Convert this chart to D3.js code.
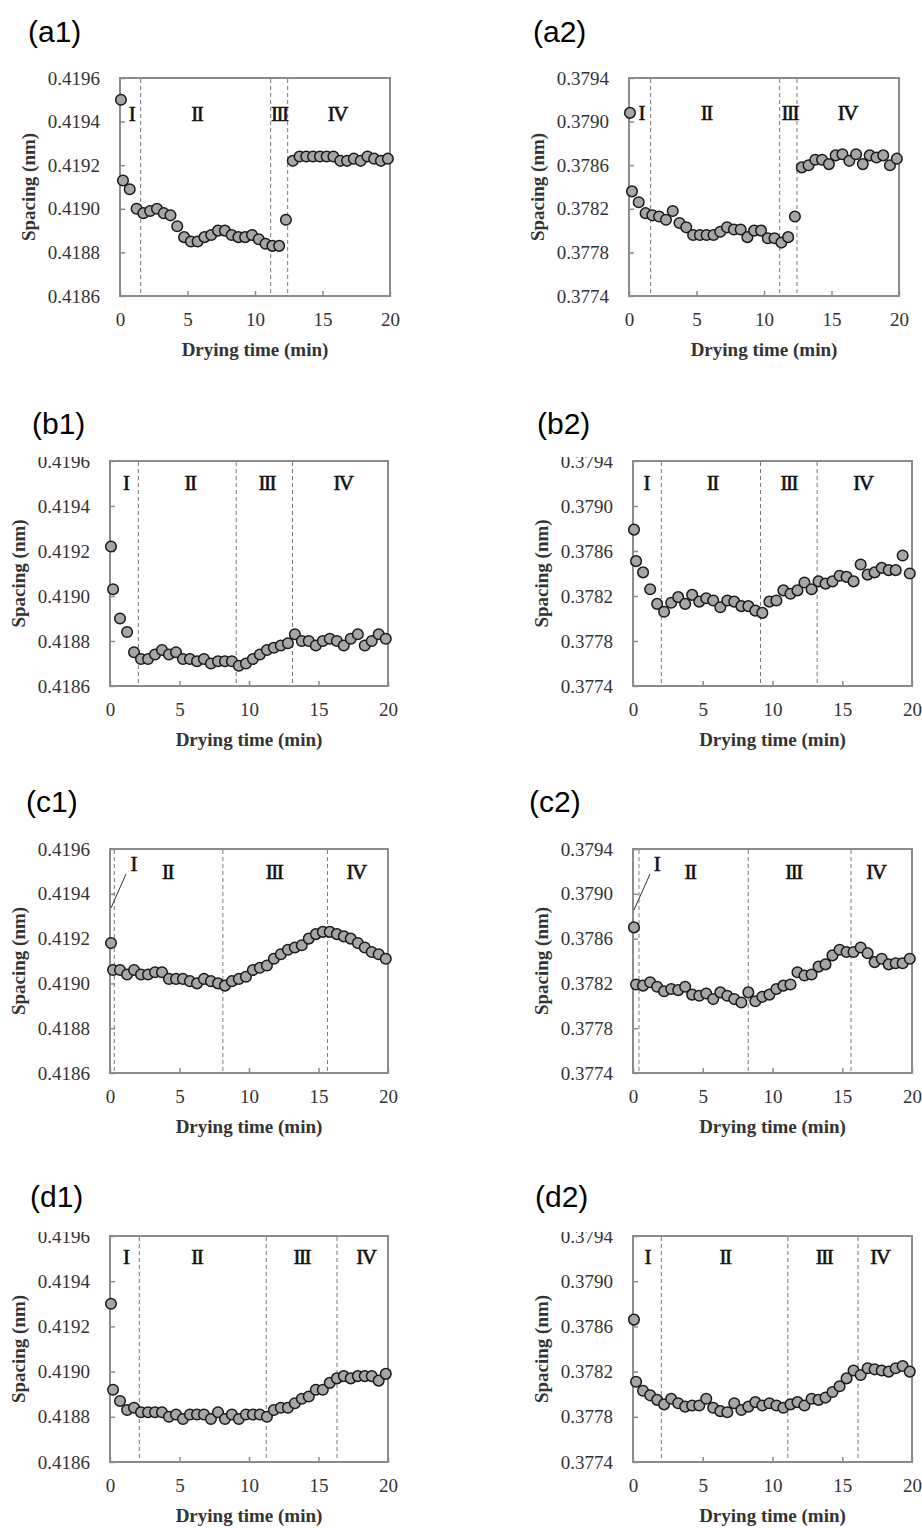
<!DOCTYPE html>
<html>
<head>
<meta charset="utf-8">
<script src="https://cdn.jsdelivr.net/npm/d3@7"></script>
<style>
body { margin: 0; background: #fff; }
svg { display: block; }
</style>
</head>
<body>
<svg width="922" height="1528"></svg>
<script>
// drying time (min) of each measurement, shared by all panels
var times = [0.07, 0.22, 0.72, 1.23, 1.73, 2.23, 2.74, 3.24, 3.74, 4.24, 4.75, 5.25, 5.75, 6.26, 6.76, 7.26,
	7.77, 8.27, 8.77, 9.27, 9.78, 10.28, 10.78, 11.29, 11.79, 12.29, 12.80, 13.30, 13.80, 14.30, 14.81,
	15.31, 15.81, 16.32, 16.82, 17.32, 17.83, 18.33, 18.83, 19.33, 19.84];

// lattice spacing (nm)
var a1Spacing = [0.41950, 0.41913, 0.41909, 0.41900, 0.41898, 0.41899, 0.41900, 0.41898, 0.41897, 0.41892,
	0.41887, 0.41885, 0.41885, 0.41887, 0.41888, 0.41890, 0.41890, 0.41888, 0.41887, 0.41887,
	0.41888, 0.41886, 0.41884, 0.41883, 0.41883, 0.41895, 0.41922, 0.41924, 0.41924, 0.41924,
	0.41924, 0.41924, 0.41924, 0.41922, 0.41922, 0.41923, 0.41922, 0.41924, 0.41923, 0.41922, 0.41923];
var a2Spacing = [0.37908, 0.37836, 0.37826, 0.37816, 0.37814, 0.37813, 0.37810, 0.37818, 0.37807, 0.37803,
	0.37796, 0.37796, 0.37796, 0.37796, 0.37799, 0.37803, 0.37801, 0.37801, 0.37794, 0.37800,
	0.37800, 0.37793, 0.37793, 0.37789, 0.37794, 0.37813, 0.37858, 0.37860, 0.37865, 0.37865,
	0.37861, 0.37869, 0.37870, 0.37864, 0.37870, 0.37861, 0.37869, 0.37867, 0.37869, 0.37860, 0.37866];
var b1Spacing = [0.41922, 0.41903, 0.41890, 0.41884, 0.41875, 0.41872, 0.41872, 0.41874, 0.41876, 0.41874,
	0.41875, 0.41872, 0.41872, 0.41871, 0.41872, 0.41870, 0.41871, 0.41871, 0.41871, 0.41869,
	0.41870, 0.41872, 0.41874, 0.41876, 0.41877, 0.41878, 0.41879, 0.41883, 0.41880, 0.41880,
	0.41878, 0.41880, 0.41881, 0.41880, 0.41878, 0.41881, 0.41883, 0.41878, 0.41880, 0.41883, 0.41881];
var b2Spacing = [0.37879, 0.37851, 0.37841, 0.37826, 0.37813, 0.37806, 0.37814, 0.37819, 0.37813, 0.37821,
	0.37815, 0.37818, 0.37816, 0.37810, 0.37816, 0.37815, 0.37811, 0.37811, 0.37807, 0.37805,
	0.37815, 0.37816, 0.37825, 0.37822, 0.37825, 0.37832, 0.37826, 0.37833, 0.37831, 0.37833,
	0.37838, 0.37837, 0.37833, 0.37848, 0.37839, 0.37841, 0.37845, 0.37843, 0.37843, 0.37856, 0.37840];
var c1Spacing = [0.41918, 0.41906, 0.41906, 0.41904, 0.41906, 0.41904, 0.41904, 0.41905, 0.41905, 0.41902,
	0.41902, 0.41902, 0.41901, 0.41900, 0.41902, 0.41901, 0.41900, 0.41899, 0.41901, 0.41902,
	0.41903, 0.41906, 0.41907, 0.41908, 0.41911, 0.41913, 0.41915, 0.41916, 0.41917, 0.41920,
	0.41922, 0.41923, 0.41923, 0.41922, 0.41921, 0.41920, 0.41918, 0.41916, 0.41914, 0.41913, 0.41911];
var c2Spacing = [0.37870, 0.37819, 0.37818, 0.37821, 0.37817, 0.37813, 0.37815, 0.37814, 0.37817, 0.37810,
	0.37809, 0.37811, 0.37806, 0.37812, 0.37809, 0.37806, 0.37803, 0.37812, 0.37804, 0.37808,
	0.37810, 0.37815, 0.37818, 0.37819, 0.37830, 0.37827, 0.37828, 0.37835, 0.37837, 0.37845,
	0.37850, 0.37848, 0.37848, 0.37852, 0.37847, 0.37839, 0.37842, 0.37837, 0.37838, 0.37838, 0.37842];
var d1Spacing = [0.41930, 0.41892, 0.41887, 0.41883, 0.41884, 0.41882, 0.41882, 0.41882, 0.41882, 0.41880,
	0.41881, 0.41879, 0.41881, 0.41881, 0.41881, 0.41879, 0.41882, 0.41879, 0.41881, 0.41879,
	0.41881, 0.41881, 0.41881, 0.41880, 0.41883, 0.41884, 0.41884, 0.41886, 0.41888, 0.41889,
	0.41892, 0.41892, 0.41895, 0.41897, 0.41898, 0.41897, 0.41898, 0.41898, 0.41898, 0.41896, 0.41899];
var d2Spacing = [0.37866, 0.37811, 0.37803, 0.37799, 0.37795, 0.37791, 0.37796, 0.37792, 0.37789, 0.37790,
	0.37790, 0.37796, 0.37788, 0.37785, 0.37784, 0.37792, 0.37786, 0.37789, 0.37793, 0.37790,
	0.37792, 0.37790, 0.37788, 0.37791, 0.37793, 0.37790, 0.37796, 0.37795, 0.37797, 0.37802,
	0.37807, 0.37814, 0.37821, 0.37817, 0.37823, 0.37822, 0.37821, 0.37820, 0.37823, 0.37825, 0.37820];

// stage boundaries (min)
var a1Stages = [1.53, 11.16, 12.42];
var a2Stages = [1.60, 11.16, 12.44];
var b1Stages = [2.04, 9.08, 13.13];
var b2Stages = [2.03, 9.14, 13.20];
var c1Stages = [0.31, 8.12, 15.65];
var c2Stages = [0.43, 8.26, 15.63];
var d1Stages = [2.11, 11.24, 16.33];
var d2Stages = [2.03, 11.10, 16.13];

var stageNames = ['I', 'II', 'III', 'IV'];
var xTicks = [0, 5, 10, 15, 20];
var yTicks1 = [0.4186, 0.4188, 0.4190, 0.4192, 0.4194, 0.4196];
var yTicks2 = [0.3774, 0.3778, 0.3782, 0.3786, 0.3790, 0.3794];

var panels = [
	{ name: '(a1)', values: a1Spacing, stages: a1Stages, yTicks: yTicks1, left: 120, top: 78, w: 270, h: 218, lx: 28, ly: 42,
		stageX: [0.86, 5.68, 11.8, 16.1], stageY: [36, 36, 36, 36] },
	{ name: '(a2)', values: a2Spacing, stages: a2Stages, yTicks: yTicks2, left: 629, top: 78, w: 270, h: 218, lx: 533, ly: 42,
		stageX: [0.91, 5.73, 11.9, 16.17], stageY: [35, 35, 35, 35] },
	{ name: '(b1)', values: b1Spacing, stages: b1Stages, yTicks: yTicks1, left: 110, top: 461, w: 278, h: 225, lx: 32, ly: 434,
		stageX: [1.13, 5.76, 11.28, 16.76], stageY: [22, 22, 22, 22], clipTop: true },
	{ name: '(b2)', values: b2Spacing, stages: b2Stages, yTicks: yTicks2, left: 633, top: 461, w: 279, h: 225, lx: 537, ly: 434,
		stageX: [0.95, 5.68, 11.17, 16.47], stageY: [22, 22, 22, 22], clipTop: true },
	{ name: '(c1)', values: c1Spacing, stages: c1Stages, yTicks: yTicks1, left: 110, top: 849, w: 278, h: 224, lx: 26, ly: 812,
		stageX: [1.68, 4.13, 11.8, 17.7], stageY: [15, 23, 23, 23], leader: [1.15, 25, 0.07, 59] },
	{ name: '(c2)', values: c2Spacing, stages: c2Stages, yTicks: yTicks2, left: 633, top: 849, w: 279, h: 224, lx: 529, ly: 812,
		stageX: [1.69, 4.08, 11.5, 17.4], stageY: [15, 23, 23, 23], leader: [1.22, 25, 0.07, 61] },
	{ name: '(d1)', values: d1Spacing, stages: d1Stages, yTicks: yTicks1, left: 110, top: 1236, w: 278, h: 226, lx: 30, ly: 1207,
		stageX: [1.13, 6.24, 13.8, 18.4], stageY: [21, 21, 21, 21], clipTop: true },
	{ name: '(d2)', values: d2Spacing, stages: d2Stages, yTicks: yTicks2, left: 633, top: 1236, w: 279, h: 226, lx: 535, ly: 1207,
		stageX: [1.03, 6.6, 13.7, 17.7], stageY: [21, 21, 21, 21], clipTop: true }
];

var svg = d3.select('svg');
var serif = 'Liberation Serif, Times New Roman, serif';
var formatTick = d3.format('.4f');

svg.append('g')
	.selectAll('text')
	.data(panels)
	.join('text')
	.attr('x', d => d.lx)
	.attr('y', d => d.ly)
	.attr('font-family', 'Liberation Sans, Arial, sans-serif')
	.attr('font-size', 30)
	.attr('fill', '#000')
	.text(d => d.name);

panels.forEach(function (p, i) {
	var g = svg.append('g').attr('transform', `translate(${p.left}, ${p.top})`);

	var x = d3.scaleLinear().domain([0, 20]).range([0, p.w]);
	var y = d3.scaleLinear().domain([p.yTicks[0], p.yTicks[p.yTicks.length - 1]]).range([p.h, 0]);

	// frame
	g.append('rect')
		.attr('width', p.w)
		.attr('height', p.h)
		.attr('fill', 'none')
		.attr('stroke', '#8c8c8c')
		.attr('stroke-width', 2);

	var yAxis = d3.axisLeft(y).tickValues(p.yTicks).tickFormat(formatTick).tickSizeInner(-5).tickSizeOuter(0).tickPadding(20);
	var xAxis = d3.axisBottom(x).tickValues(xTicks).tickSizeInner(-5).tickSizeOuter(0).tickPadding(17);

	var ya = g.append('g').call(yAxis);
	ya.select('.domain').remove();
	styleAxis(ya);
	if (p.clipTop) {
		var cid = 'clip' + i;
		svg.append('clipPath').attr('id', cid)
			.append('rect').attr('x', -120).attr('y', -4).attr('width', 200).attr('height', p.h + 30);
		ya.attr('clip-path', `url(#${cid})`);
	}

	var xa = g.append('g').attr('transform', `translate(0,${p.h})`).call(xAxis);
	xa.select('.domain').remove();
	styleAxis(xa);

	// stage boundaries
	g.append('g')
		.selectAll('line')
		.data(p.stages)
		.join('line')
		.attr('x1', d => x(d))
		.attr('x2', d => x(d))
		.attr('y1', 1)
		.attr('y2', p.h - 1)
		.attr('stroke', '#7a7a7a')
		.attr('stroke-width', 1)
		.attr('stroke-dasharray', '4,3');

	// stage labels
	g.append('g')
		.selectAll('text')
		.data(stageNames)
		.join('text')
		.attr('x', (d, j) => x(p.stageX[j]))
		.attr('y', (d, j) => p.stageY[j])
		.attr('dy', '0.35em')
		.attr('text-anchor', 'middle')
		.attr('font-family', serif)
		.attr('font-size', 21)
		.attr('letter-spacing', -1.5)
		.attr('stroke', '#111')
		.attr('stroke-width', 0.6)
		.attr('fill', '#111')
		.text(d => d);

	if (p.leader) {
		g.append('line')
			.attr('x1', x(p.leader[0]))
			.attr('y1', p.leader[1])
			.attr('x2', x(p.leader[2]))
			.attr('y2', p.leader[3])
			.attr('stroke', '#333')
			.attr('stroke-width', 1);
	}

	// measurements
	g.append('g')
		.selectAll('circle')
		.data(p.values)
		.join('circle')
		.attr('cx', (d, j) => x(times[j]))
		.attr('cy', d => y(d))
		.attr('r', 5.3)
		.attr('fill', '#a6a6a6')
		.attr('stroke', '#1a1a1a')
		.attr('stroke-width', 1.5);

	g.append('text')
		.attr('transform', `translate(-92, ${p.h / 2}) rotate(-90)`)
		.attr('text-anchor', 'middle')
		.attr('dy', '0.35em')
		.attr('font-family', serif)
		.attr('font-weight', 'bold')
		.attr('font-size', 19)
		.attr('fill', '#333')
		.text('Spacing (nm)');

	g.append('text')
		.attr('x', p.w / 2)
		.attr('y', p.h + 53)
		.attr('text-anchor', 'middle')
		.attr('dy', '0.35em')
		.attr('font-family', serif)
		.attr('font-weight', 'bold')
		.attr('font-size', 19)
		.attr('fill', '#333')
		.text('Drying time (min)');
});

function styleAxis(a) {
	a.selectAll('.tick line').attr('stroke', '#8c8c8c').attr('stroke-width', 1.5);
	a.selectAll('.tick text')
		.attr('font-family', serif)
		.attr('font-size', 19)
		.attr('fill', '#333');
}
</script>
</body>
</html>
